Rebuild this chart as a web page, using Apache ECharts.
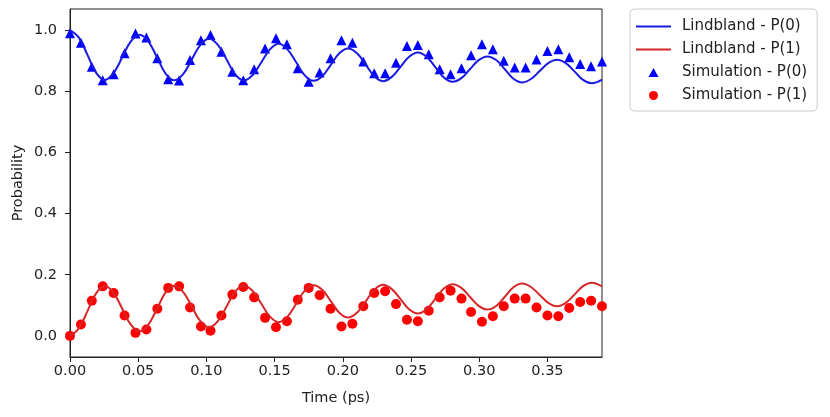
<!DOCTYPE html>
<html>
<head>
<meta charset="utf-8">
<script src="https://cdn.jsdelivr.net/npm/echarts@6/dist/echarts.min.js"></script>
<style>
  html, body { margin: 0; padding: 0; background: #fff; }
  #chart { width: 830px; height: 417px; }
</style>
</head>
<body>
<div id="chart"></div>
<script>
// simulation sample times (ps)
var simTime = [0, 0.008, 0.016, 0.024, 0.032, 0.040, 0.048, 0.056, 0.064, 0.072,
  0.080, 0.088, 0.096, 0.103, 0.111, 0.119, 0.127, 0.135, 0.143, 0.151,
  0.159, 0.167, 0.175, 0.183, 0.191, 0.199, 0.207, 0.215, 0.223, 0.231,
  0.239, 0.247, 0.255, 0.263, 0.271, 0.279, 0.287, 0.294, 0.302, 0.310,
  0.318, 0.326, 0.334, 0.342, 0.350, 0.358, 0.366, 0.374, 0.382, 0.390];
var simP0 = [0.990, 0.959, 0.880, 0.836, 0.856, 0.924, 0.989, 0.976, 0.908, 0.839,
  0.835, 0.902, 0.967, 0.984, 0.929, 0.864, 0.836, 0.872, 0.940, 0.973,
  0.954, 0.875, 0.831, 0.861, 0.908, 0.967, 0.959, 0.897, 0.859, 0.859,
  0.893, 0.948, 0.951, 0.921, 0.872, 0.856, 0.875, 0.918, 0.954, 0.937,
  0.900, 0.878, 0.878, 0.904, 0.932, 0.937, 0.911, 0.889, 0.882, 0.897];
var simP1 = [0.000, 0.037, 0.115, 0.162, 0.140, 0.067, 0.010, 0.021, 0.089, 0.157,
  0.162, 0.093, 0.031, 0.017, 0.067, 0.135, 0.160, 0.126, 0.059, 0.028,
  0.048, 0.118, 0.157, 0.133, 0.089, 0.031, 0.040, 0.097, 0.140, 0.146,
  0.104, 0.053, 0.048, 0.082, 0.126, 0.148, 0.122, 0.078, 0.046, 0.064,
  0.097, 0.122, 0.122, 0.093, 0.067, 0.064, 0.091, 0.111, 0.115, 0.097];

// Lindblad curve
var lindTime = [0, 0.0064, 0.0128, 0.0191, 0.0255, 0.0319, 0.0383, 0.0446, 0.051,
  0.0574, 0.0638, 0.0701, 0.0765, 0.0829, 0.0893, 0.0956, 0.102,
  0.1084, 0.1148, 0.1211, 0.1275, 0.1339, 0.1403, 0.1466, 0.153,
  0.1594, 0.1658, 0.1721, 0.1785, 0.1849, 0.1913, 0.1976, 0.204,
  0.2104, 0.2168, 0.2231, 0.2295, 0.2359, 0.2423, 0.2486, 0.255,
  0.2614, 0.2678, 0.2741, 0.2805, 0.2869, 0.2933, 0.2996, 0.306,
  0.3124, 0.3188, 0.3251, 0.3315, 0.3379, 0.3443, 0.3506, 0.357,
  0.3634, 0.3698, 0.3761, 0.3825, 0.39];
var lindP0 = [1.000, 0.976, 0.919, 0.861, 0.837,
  0.859, 0.911, 0.963, 0.985,
  0.963, 0.911, 0.858, 0.836,
  0.856, 0.904, 0.952, 0.972,
  0.952, 0.904, 0.855, 0.835,
  0.853, 0.895, 0.937, 0.955,
  0.937, 0.895, 0.852, 0.834,
  0.849, 0.887, 0.925, 0.940,
  0.924, 0.887, 0.849, 0.833,
  0.847, 0.880, 0.913, 0.927,
  0.913, 0.879, 0.845, 0.831,
  0.843, 0.873, 0.902, 0.914,
  0.902, 0.872, 0.841, 0.829,
  0.840, 0.866, 0.892, 0.903,
  0.892, 0.865, 0.837, 0.826,
  0.838];
var lindP1 = [0.000, 0.024, 0.081, 0.139, 0.163,
  0.141, 0.089, 0.037, 0.015,
  0.037, 0.089, 0.142, 0.164,
  0.144, 0.096, 0.048, 0.028,
  0.048, 0.096, 0.145, 0.165,
  0.147, 0.105, 0.063, 0.045,
  0.063, 0.105, 0.148, 0.166,
  0.151, 0.113, 0.075, 0.060,
  0.076, 0.113, 0.151, 0.167,
  0.153, 0.120, 0.087, 0.073,
  0.087, 0.121, 0.155, 0.169,
  0.157, 0.127, 0.098, 0.086,
  0.098, 0.128, 0.159, 0.171,
  0.160, 0.134, 0.108, 0.097,
  0.108, 0.135, 0.163, 0.174,
  0.162];

var xTicks = [0, 0.05, 0.10, 0.15, 0.20, 0.25, 0.30, 0.35];
var yTicks = [0, 0.2, 0.4, 0.6, 0.8, 1.0];

function pairs(xs, ys) {
  return xs.map(function (x, i) { return [x, ys[i]]; });
}

var font = 'DejaVu Sans';
var chart = echarts.init(document.getElementById('chart'));
var option = {
  animation: false,
  grid: {
    left: 70, top: 9, width: 532, height: 348,
    show: true, borderColor: '#222', borderWidth: 1
  },
  legend: {
    orient: 'vertical',
    left: 630, top: 9,
    itemWidth: 35, itemHeight: 9, itemGap: 8,
    padding: [10, 10, 8, 5],
    borderColor: '#ccc', borderWidth: 1, borderRadius: 4,
    textStyle: { fontFamily: font, fontSize: 15, color: '#222', padding: [0, 0, 0, 6] },
    data: [
      { name: 'Lindbland - P(0)', itemStyle: { opacity: 0 } },
      { name: 'Lindbland - P(1)', itemStyle: { opacity: 0 } },
      { name: 'Simulation - P(0)', icon: 'path://M5,0 L10,9 L0,9 Z' },
      { name: 'Simulation - P(1)', icon: 'circle' }
    ]
  },
  xAxis: {
    type: 'value', min: 0, max: 0.39,
    name: 'Time (ps)', nameLocation: 'middle', nameGap: 34,
    nameTextStyle: { fontFamily: font, fontSize: 14.5, color: '#222' },
    axisLine: { show: true, onZero: false, lineStyle: { color: '#222' } },
    axisTick: { show: true, length: 5, customValues: xTicks, lineStyle: { color: '#222' } },
    axisLabel: {
      customValues: xTicks, margin: 7, fontFamily: font, fontSize: 14.5, color: '#222',
      formatter: function (v) { return v.toFixed(2); }
    },
    splitLine: { show: false }
  },
  yAxis: {
    type: 'value', min: -0.069, max: 1.069,
    name: 'Probability', nameLocation: 'middle', nameGap: 44, nameMoveOverlap: false,
    nameTextStyle: { fontFamily: font, fontSize: 14.5, color: '#222' },
    axisLine: { show: true, onZero: false, lineStyle: { color: '#222' } },
    axisTick: { show: true, length: 5, customValues: yTicks, lineStyle: { color: '#222' } },
    axisLabel: {
      customValues: yTicks, margin: 13, fontFamily: font, fontSize: 14.5, color: '#222',
      formatter: function (v) { return v.toFixed(1); }
    },
    splitLine: { show: false }
  },
  series: [
    {
      name: 'Lindbland - P(0)', type: 'line', data: pairs(lindTime, lindP0),
      smooth: 0.4, symbol: 'none', color: '#1a1ae0',
      lineStyle: { width: 2, color: '#1a1ae0' }
    },
    {
      name: 'Lindbland - P(1)', type: 'line', data: pairs(lindTime, lindP1),
      smooth: 0.4, symbol: 'none', color: '#d62728',
      lineStyle: { width: 2, color: '#d62728' }
    },
    {
      name: 'Simulation - P(0)', type: 'scatter', data: pairs(simTime, simP0),
      symbol: 'triangle', symbolSize: 10, itemStyle: { color: '#0000ff', opacity: 1 }
    },
    {
      name: 'Simulation - P(1)', type: 'scatter', data: pairs(simTime, simP1),
      symbol: 'circle', symbolSize: 10, itemStyle: { color: '#ff0000', opacity: 1 }
    }
  ]
};
chart.setOption(option);
</script>
</body>
</html>
